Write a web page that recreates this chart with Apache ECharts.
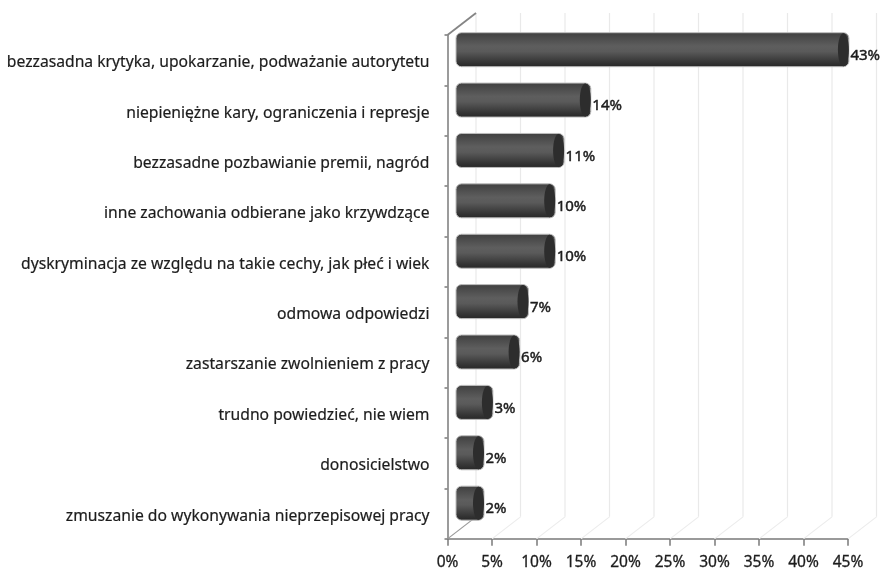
<!DOCTYPE html>
<html><head><meta charset="utf-8">
<style>html,body{margin:0;padding:0;background:#fff}#c{width:881px;height:571px;filter:blur(0.45px)}</style>
<script src="https://cdn.jsdelivr.net/npm/echarts@6/dist/echarts.min.js"></script>
</head><body><div id="c"></div>
<script>
const categories = [
  'bezzasadna krytyka, upokarzanie, podważanie autorytetu',
  'niepieniężne kary, ograniczenia i represje',
  'bezzasadne pozbawianie premii, nagród',
  'inne zachowania odbierane jako krzywdzące',
  'dyskryminacja ze względu na takie cechy, jak płeć i wiek',
  'odmowa odpowiedzi',
  'zastarszanie zwolnieniem z pracy',
  'trudno powiedzieć, nie wiem',
  'donosicielstwo',
  'zmuszanie do wykonywania nieprzepisowej pracy'
];
const values = [43, 14, 11, 10, 10, 7, 6, 3, 2, 2];
const wallTicks = [0, 5, 10, 15, 20, 25, 30, 35, 40, 45];
const FONT = '"Noto Sans", sans-serif';
const DX = 28.5, DY = -22, TEXT = '#1c1c1c';

const chart = echarts.init(document.getElementById('c'));
chart.setOption({
  animation: false,
  backgroundColor: '#fff',
  grid: { left: 447.5, right: 33, top: 35, height: 504, containLabel: false },
  xAxis: {
    type: 'value', min: 0, max: 45, interval: 5,
    axisLine: { show: true, lineStyle: { color: '#7a7a7a', width: 1.5 } },
    axisTick: { show: true, length: 7, lineStyle: { color: '#7a7a7a', width: 1.5 } },
    axisLabel: { formatter: '{value}%', color: TEXT, fontFamily: FONT, fontSize: 15.5, margin: 16, hideOverlap: false,
      textBorderColor: TEXT, textBorderWidth: 0.3 },
    splitLine: { show: false }
  },
  yAxis: {
    type: 'category', inverse: true, data: categories,
    axisLine: { show: true, lineStyle: { color: '#7a7a7a', width: 1.5 } },
    axisTick: { show: true, length: 3, lineStyle: { color: '#7a7a7a', width: 1.5 } },
    axisLabel: { color: TEXT, fontFamily: FONT, fontSize: 15.7, margin: 18, verticalAlign: 'top', lineHeight: 5, interval: 0,
      textBorderColor: TEXT, textBorderWidth: 0.2 }
  },
  series: [
    {
      type: 'custom', coordinateSystem: 'cartesian2d', z: 1, silent: true,
      encode: { x: 0 },
      data: wallTicks.map(t => [t, 0]),
      renderItem(params, api) {
        const t = api.value(0);
        const top = api.coord([t, 0]);
        const cs = params.coordSys;
        const x = top[0], yT = cs.y, yB = cs.y + cs.height;
        const kids = [
          { type: 'line', shape: { x1: x + DX, y1: yT + DY, x2: x + DX, y2: yB + DY }, style: { stroke: '#e9e9e9', lineWidth: 1.2 } },
          { type: 'line', shape: { x1: x, y1: yB, x2: x + DX, y2: yB + DY }, style: { stroke: t === 0 ? '#999' : '#ececec', lineWidth: 1.2 } }
        ];
        if (t === 0) kids.push({ type: 'line', shape: { x1: x, y1: yT, x2: x + DX, y2: yT + DY }, style: { stroke: '#858585', lineWidth: 1.8 } });
        return { type: 'group', children: kids };
      }
    },
    {
      type: 'custom', coordinateSystem: 'cartesian2d', z: 3, silent: true,
      encode: { x: 0, y: 1 },
      data: values.map((v, i) => [v, i]),
      renderItem(params, api) {
        const v = api.value(0), idx = api.value(1);
        const base = api.coord([0, idx]);
        const end = api.coord([v, idx]);
        const h = 34, cy = base[1] - 10.5;
        const left = base[0] + 8.5, right = end[0] + 18.7, rx = 5.5;
        const grad = new echarts.graphic.LinearGradient(0, 0, 0, 1, [
          { offset: 0, color: '#3f3f3f' },
          { offset: 0.4, color: '#5e5e5e' },
          { offset: 0.55, color: '#5a5a5a' },
          { offset: 0.85, color: '#363636' },
          { offset: 1, color: '#262626' }
        ]);
        return {
          type: 'group',
          children: [
            { type: 'rect', shape: { x: left, y: cy - h / 2, width: right - left, height: h, r: rx },
              style: { fill: grad, stroke: '#bdbdbd', lineWidth: 1 } },
            { type: 'ellipse', shape: { cx: right - rx, cy: cy, rx: rx, ry: h / 2 - 0.5 },
              style: { fill: '#2d2d2d' } },
            { type: 'text', x: right + 1.5, y: cy + 6,
              style: { text: v + '%', fill: TEXT, stroke: TEXT, lineWidth: 0.45, font: '15px ' + FONT, textVerticalAlign: 'middle', textAlign: 'left' } }
          ]
        };
      }
    }
  ]
});
</script></body></html>
